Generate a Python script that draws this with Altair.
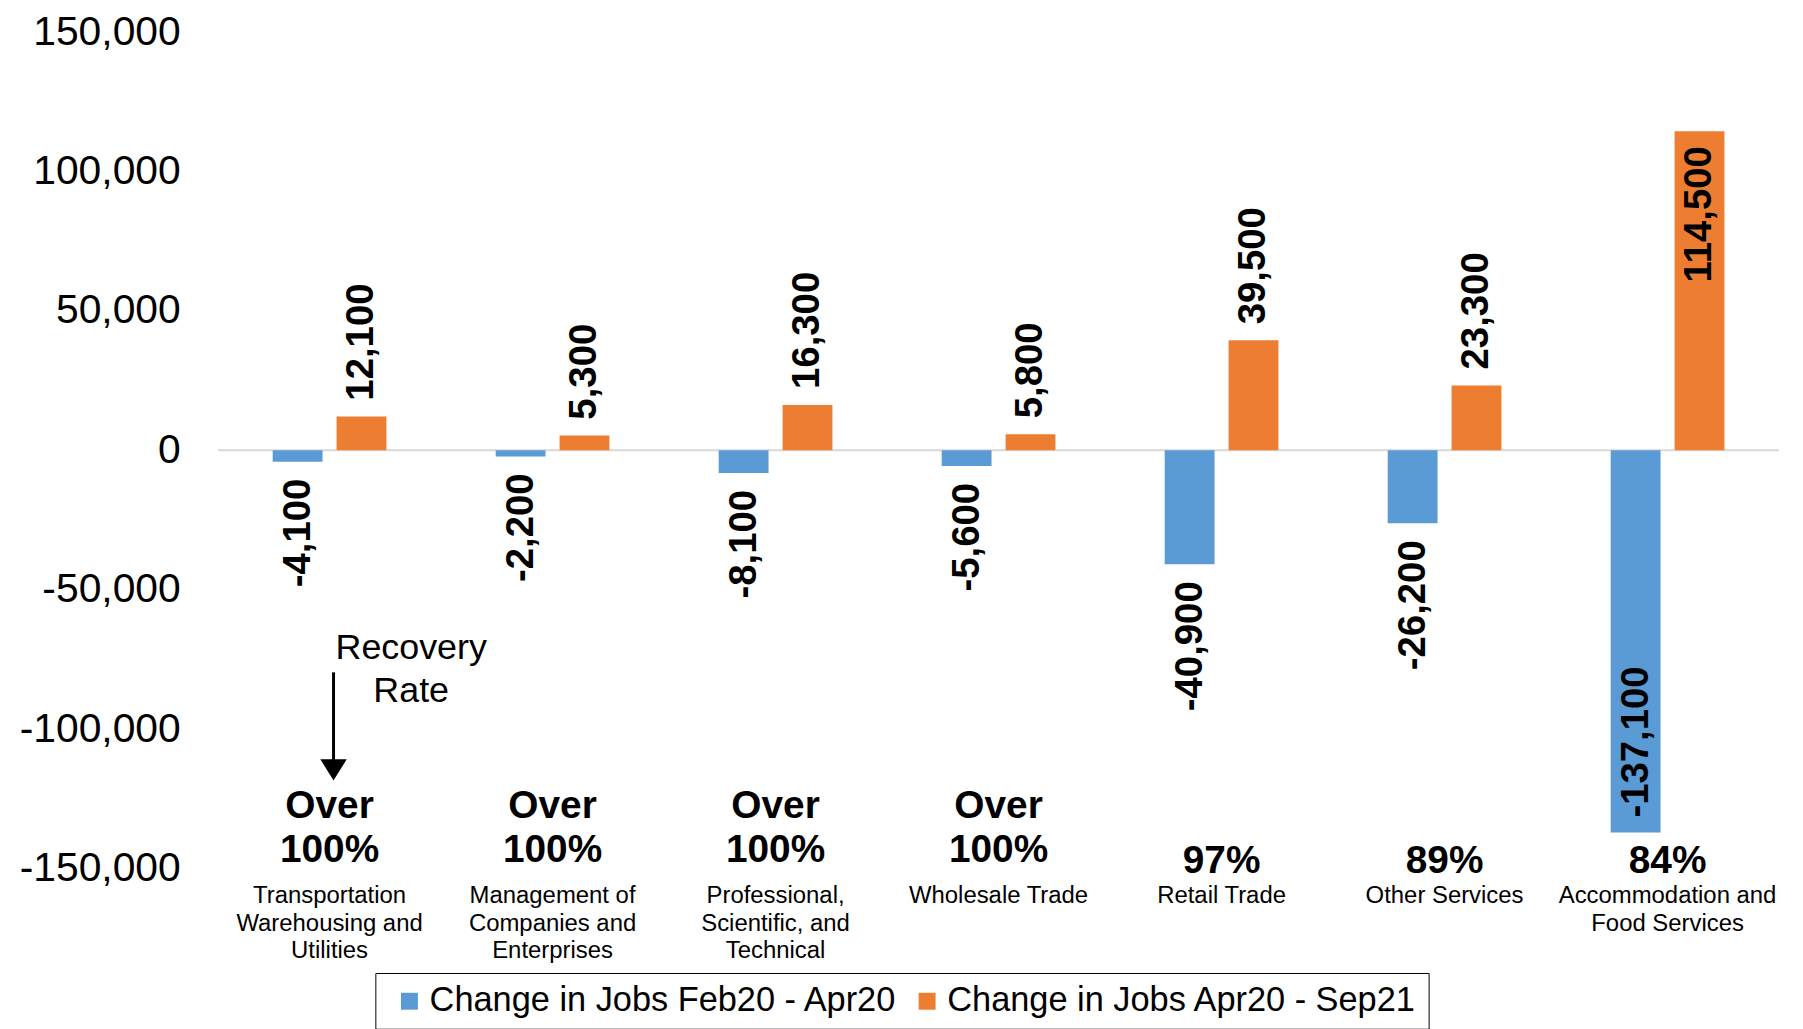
import altair as alt
import pandas as pd

FONT = "Liberation Sans"

categories = [
    "Transportation Warehousing and Utilities",
    "Management of Companies and Enterprises",
    "Professional, Scientific, and Technical",
    "Wholesale Trade",
    "Retail Trade",
    "Other Services",
    "Accommodation and Food Services",
]
category_lines = [
    "Transportation\nWarehousing and\nUtilities",
    "Management of\nCompanies and\nEnterprises",
    "Professional,\nScientific, and\nTechnical",
    "Wholesale Trade",
    "Retail Trade",
    "Other Services",
    "Accommodation and\nFood Services",
]
series = ["Change in Jobs Feb20 - Apr20", "Change in Jobs Apr20 - Sep21"]
loss = [-4100, -2200, -8100, -5600, -40900, -26200, -137100]
gain = [12100, 5300, 16300, 5800, 39500, 23300, 114500]
recovery = ["Over\n100%", "Over\n100%", "Over\n100%", "Over\n100%", "97%", "89%", "84%"]
y_ticks = [-150000, -100000, -50000, 0, 50000, 100000, 150000]
colors = ["#5B9BD5", "#ED7D31"]

rows = []
for c, a, b in zip(categories, loss, gain):
    rows.append({"category": c, "series": series[0], "value": a, "label": f"{a:,}"})
    rows.append({"category": c, "series": series[1], "value": b, "label": f"{b:,}"})
df = pd.DataFrame(rows)
cat_df = pd.DataFrame({"category": categories, "lines": category_lines, "rate": recovery})
cat_df["multi"] = cat_df["rate"].str.contains("\n")

x_enc = alt.X("category:N", sort=categories, axis=None,
              scale=alt.Scale(paddingInner=0.49, paddingOuter=0.245))
xo_enc = alt.XOffset("series:N", sort=series,
                     scale=alt.Scale(paddingInner=0.22, paddingOuter=0))
y_enc = alt.Y("value:Q", title=None,
              scale=alt.Scale(domain=[-150000, 150000], nice=False),
              axis=alt.Axis(values=y_ticks,
                            labelExpr="replace(format(datum.value, ',d'), '\u2212', '-')",
                            labelFontSize=41, labelFont=FONT,
                            labelColor="black", ticks=False, domain=False, grid=False,
                            labelPadding=38))

base = alt.Chart(df)

bars = base.mark_bar().encode(
    x=x_enc, xOffset=xo_enc, y=y_enc,
    color=alt.Color("series:N", sort=series,
                    scale=alt.Scale(domain=series, range=colors),
                    legend=alt.Legend(orient="none", legendX=158, legendY=945,
                                      direction="horizontal", title=None,
                                      labelFontSize=34.5, labelFont=FONT, labelColor="black",
                                      labelLimit=700, symbolType="square", symbolSize=289,
                                      symbolStrokeWidth=0, strokeColor="black",
                                      fillColor="white", padding=11, labelOffset=3,
                                      columnPadding=6, symbolOffset=6)),
)

zero = alt.Chart(pd.DataFrame({"z": [0]})).mark_rule(color="#d9d9d9", strokeWidth=2).encode(
    y=alt.Y("z:Q"))

lab_style = dict(angle=270, baseline="middle", fontSize=38.5, fontWeight="bold",
                 font=FONT, color="black")

def labels(cond, align, dx):
    return base.transform_filter(cond).mark_text(align=align, dx=dx, **lab_style).encode(
        x=x_enc, xOffset=xo_enc, y=alt.Y("value:Q"), text="label:N")

pos_out = labels("datum.value > 0 && datum.value < 100000", "left", 16)
neg_out = labels("datum.value < 0 && datum.value > -100000", "right", -17)
pos_in = labels("datum.value >= 100000", "right", -15)
neg_in = labels("datum.value <= -100000", "left", 15)

rate_style = dict(fontSize=39, fontWeight="bold", font=FONT, color="black", baseline="middle",
                  lineBreak="\n", lineHeight=45, align="center")
rates_multi = alt.Chart(cat_df).transform_filter("datum.multi").mark_text(**rate_style).encode(
    x=x_enc, y=alt.value(777), text="rate:N")
rates_single = alt.Chart(cat_df).transform_filter("!datum.multi").mark_text(**rate_style).encode(
    x=x_enc, y=alt.value(833), text="rate:N")

cat_text = alt.Chart(cat_df).mark_text(
    fontSize=24, font=FONT, color="black", baseline="top",
    lineBreak="\n", lineHeight=27.5, align="center"
).encode(x=x_enc, y=alt.value(856), text="lines:N")

annot = alt.Chart(pd.DataFrame({"t": ["Recovery\nRate"]})).mark_text(
    fontSize=36, font=FONT, color="black", baseline="middle", lineBreak="\n",
    lineHeight=43, align="center"
).encode(x=alt.value(194), y=alt.value(618.5), text="t:N")

arrow_line = alt.Chart(pd.DataFrame({"a": [0]})).mark_rule(color="black", strokeWidth=3).encode(
    x=alt.value(116), y=alt.value(643), y2=alt.value(735))
arrow_head = alt.Chart(pd.DataFrame({"a": [0]})).mark_point(
    shape="M-1,-0.8L1,-0.8L0,0.8Z", size=700, filled=True, color="black", opacity=1,
    strokeWidth=0
).encode(x=alt.value(116), y=alt.value(741))

chart = alt.layer(
    zero, bars, pos_out, neg_out, pos_in, neg_in, rates_multi, rates_single, cat_text,
    annot, arrow_line, arrow_head
).properties(
    width=1568, height=840,
    background="white",
    autosize=alt.AutoSizeParams(type="none"),
    padding={"left": 211, "top": 22, "right": 16, "bottom": 170},
).configure_view(strokeWidth=0, stroke="transparent")

chart.save("out.html", embed_options={"renderer": "svg", "actions": False})
